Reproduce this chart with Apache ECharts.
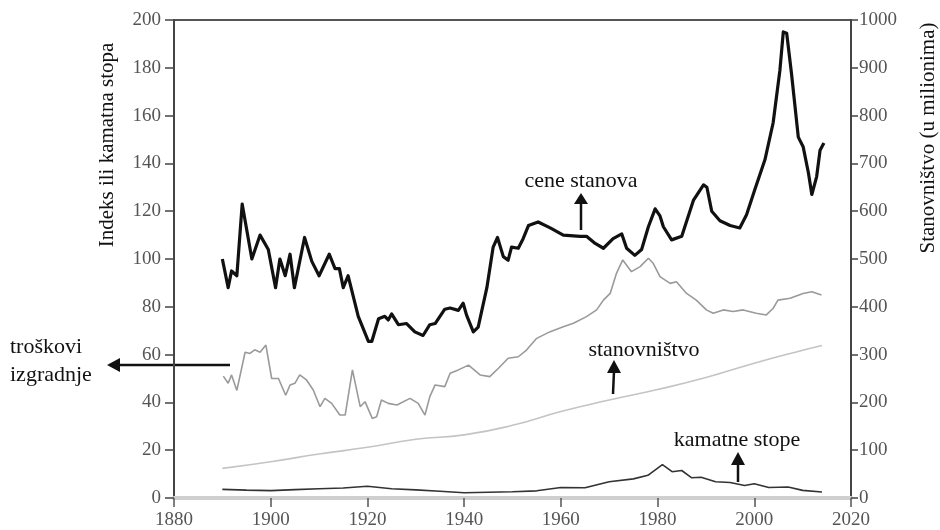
<!DOCTYPE html>
<html>
<head>
<meta charset="utf-8">
<script src="https://cdn.jsdelivr.net/npm/echarts@6/dist/echarts.min.js"></script>
<style>
  html, body { margin: 0; padding: 0; background: #fff; }
  #chart { width: 940px; height: 530px; }
</style>
</head>
<body>
<div id="chart"></div>
<script>
// [godina, vrednost] — očitano sa slike
const homePrices = [
  [1890, 100], [1891.2, 88], [1891.9, 95], [1893, 93], [1894.1, 123], [1896.1, 100],
  [1897.8, 110], [1899.5, 104], [1901, 88], [1901.9, 100], [1903, 93], [1904, 102],
  [1904.9, 88], [1907, 109], [1908.5, 99], [1910, 93], [1912.1, 102], [1913.3, 96],
  [1914.2, 96], [1915, 88], [1916, 93], [1918.1, 76], [1920.2, 65.5], [1920.9, 65.5],
  [1922.3, 75], [1923.6, 76], [1924.3, 74.5], [1925, 77], [1926.4, 72.5], [1928.1, 73],
  [1929.8, 69.5], [1931.5, 68], [1932.9, 72.5], [1934, 73], [1936, 79], [1937.1, 79.5],
  [1938.8, 78.5], [1939.8, 81.5], [1940.5, 76.5], [1941.9, 69.5], [1942.9, 71.5],
  [1944.7, 88], [1946, 105], [1946.9, 109], [1948.1, 101], [1949.1, 99.5], [1949.8, 105],
  [1951.2, 104.5], [1952.2, 108.5], [1953.3, 114], [1955.3, 115.5], [1957.8, 113],
  [1960.5, 110], [1964, 109.5], [1965.3, 109.5], [1967.1, 106.5], [1968.8, 104.5],
  [1970.8, 108.5], [1972.6, 110.5], [1973.6, 104.5], [1975.3, 101.5], [1976.7, 104],
  [1978.1, 113.5], [1979.5, 121], [1980.5, 118], [1981.2, 113.5], [1982.9, 108],
  [1985, 109.5], [1987.4, 124.5], [1989.5, 131], [1990.2, 130], [1991.2, 120],
  [1992.9, 116], [1995, 114], [1997, 113], [1998.4, 118.5], [2000.1, 129], [2002.2, 141.5],
  [2003.9, 157], [2005.3, 179], [2006, 195], [2006.7, 194.5], [2007.7, 177.5],
  [2009.1, 151], [2010.1, 147], [2011.2, 136], [2011.9, 127], [2012.9, 134.5],
  [2013.6, 145.5], [2014.4, 148.5]
]

const buildingCosts = [
  [1890.2, 51], [1891.2, 48], [1891.9, 51.5], [1893, 45], [1894.7, 61], [1895.7, 60.5],
  [1896.7, 62], [1897.8, 61], [1899, 64], [1900.2, 50], [1901.6, 50], [1903.1, 43],
  [1904, 47.3], [1905, 48], [1906, 51.5], [1907.4, 49.4], [1908.8, 45.2], [1910.2, 38.2],
  [1911.2, 41.7], [1912.6, 39.6], [1914.3, 34.7], [1915.4, 34.7], [1916.9, 53.6],
  [1918.5, 38.2], [1919.5, 40.3], [1921, 33.3], [1921.9, 34], [1922.9, 41], [1924.3, 39.6],
  [1926.1, 38.9], [1928.8, 41.7], [1930.5, 39.6], [1931.9, 34.7], [1932.9, 42.4],
  [1934, 47.3], [1936, 46.6], [1937.1, 52.2], [1938.8, 53.6], [1940.9, 55.6],
  [1943.3, 51.5], [1945.3, 50.8], [1947.1, 54.3], [1949.1, 58.5], [1951.2, 59.1],
  [1952.9, 61.9], [1955, 66.8], [1957.8, 69.6], [1960.5, 71.7], [1962.6, 73.1],
  [1965.3, 75.9], [1967.4, 78.7], [1968.8, 82.8], [1970.2, 85.6], [1971.5, 94],
  [1972.8, 99.6], [1974.6, 94.7], [1976.4, 96.8], [1978.1, 100.3], [1979.1, 98.2],
  [1980.5, 92.6], [1982.6, 89.8], [1983.9, 90.5], [1986, 85.6], [1988, 82.8],
  [1990.1, 78.7], [1991.5, 77.3], [1993.6, 78.7], [1995.6, 78], [1997.7, 78.7],
  [2000.4, 77.3], [2002.5, 76.6], [2003.9, 79.4], [2004.9, 82.8], [2007.4, 83.6],
  [2010.1, 85.6], [2011.9, 86.3], [2013.9, 84.9]
]

// stanovništvo u milionima (desna osa)
const population = [
  [1890, 62], [1900, 76], [1910, 92], [1920, 106], [1930, 123], [1940, 132],
  [1950, 152], [1960, 181], [1970, 205], [1980, 227], [1990, 252], [2000, 282],
  [2010, 309], [2014, 319]
]

const interestRates = [
  [1890, 3.6], [1895, 3.3], [1900, 3.1], [1905, 3.5], [1910, 3.9], [1915, 4.2],
  [1920, 4.9], [1925, 3.9], [1930, 3.4], [1935, 2.8], [1940, 2.2], [1945, 2.4],
  [1950, 2.6], [1955, 3], [1960, 4.4], [1965, 4.3], [1970, 6.8], [1975, 8],
  [1978, 9.5], [1981, 14], [1983, 11], [1985, 11.5], [1987, 8.5], [1989, 8.7],
  [1992, 6.8], [1995, 6.5], [1998, 5.2], [2000, 6], [2003, 4.4], [2007, 4.6],
  [2010, 3.2], [2014, 2.5]
]

const serif = 'Liberation Serif, Times New Roman, serif'
const tickFont = { fontFamily: serif, fontSize: 19, color: '#555', formatter: v => String(v) }

const chart = echarts.init(document.getElementById('chart'))

const lineBase = {
  type: 'line',
  showSymbol: false,
  animation: false
}

const option = {
  backgroundColor: '#fff',
  grid: {
    left: 174,
    right: 89,
    top: 20,
    bottom: 32,
    show: true,
    borderColor: '#555',
    borderWidth: 2
  },
  xAxis: {
    type: 'value',
    min: 1880,
    max: 2020,
    interval: 20,
    axisLine: { show: true, lineStyle: { color: '#cfcfcf', width: 4 } },
    axisTick: { show: true, length: 9, lineStyle: { color: '#555', width: 1.5 } },
    axisLabel: Object.assign({ margin: 13 }, tickFont),
    splitLine: { show: false }
  },
  yAxis: [
    {
      type: 'value',
      min: 0,
      max: 200,
      interval: 20,
      axisLine: { show: true, lineStyle: { color: '#444', width: 2 } },
      axisTick: { show: true, length: 9, lineStyle: { color: '#444', width: 1.5 } },
      axisLabel: Object.assign({ margin: 13 }, tickFont),
      splitLine: { show: false }
    },
    {
      type: 'value',
      min: 0,
      max: 1000,
      interval: 100,
      position: 'right',
      axisLine: { show: true, lineStyle: { color: '#444', width: 2 } },
      axisTick: { show: true, length: 7, lineStyle: { color: '#444', width: 1.5 } },
      axisLabel: Object.assign({ margin: 8 }, tickFont),
      splitLine: { show: false }
    }
  ],
  series: [
    Object.assign({}, lineBase, {
      name: 'troškovi izgradnje',
      data: buildingCosts,
      lineStyle: { color: '#9a9a9a', width: 1.6 }
    }),
    Object.assign({}, lineBase, {
      name: 'stanovništvo',
      yAxisIndex: 1,
      data: population,
      smooth: true,
      lineStyle: { color: '#c4c4c4', width: 1.6 }
    }),
    Object.assign({}, lineBase, {
      name: 'kamatne stope',
      data: interestRates,
      lineStyle: { color: '#333', width: 1.6 }
    }),
    Object.assign({}, lineBase, {
      name: 'cene stanova',
      data: homePrices,
      lineStyle: { color: '#111', width: 3.2, join: 'round' }
    })
  ],
  graphic: [
    // naslovi osa
    {
      type: 'text', x: 107, y: 145, rotation: Math.PI / 2,
      style: { text: 'Indeks ili kamatna stopa', font: '21px ' + serif, fill: '#111', textAlign: 'center', textVerticalAlign: 'middle' }
    },
    {
      type: 'text', x: 928, y: 138, rotation: Math.PI / 2,
      style: { text: 'Stanovništvo (u milionima)', font: '21px ' + serif, fill: '#111', textAlign: 'center', textVerticalAlign: 'middle' }
    },
    // cene stanova
    {
      type: 'text', x: 581, y: 181,
      style: { text: 'cene stanova', font: '22px ' + serif, fill: '#111', textAlign: 'center', textVerticalAlign: 'middle' }
    },
    { type: 'line', shape: { x1: 581, y1: 230, x2: 581, y2: 202 }, style: { stroke: '#111', lineWidth: 2.5 } },
    { type: 'polygon', shape: { points: [[574, 204], [588, 204], [581, 193]] }, style: { fill: '#111' } },
    // stanovništvo
    {
      type: 'text', x: 644, y: 350,
      style: { text: 'stanovništvo', font: '22px ' + serif, fill: '#111', textAlign: 'center', textVerticalAlign: 'middle' }
    },
    { type: 'line', shape: { x1: 613, y1: 394, x2: 614, y2: 371 }, style: { stroke: '#111', lineWidth: 2.5 } },
    { type: 'polygon', shape: { points: [[607, 373], [621, 373], [614, 360]] }, style: { fill: '#111' } },
    // kamatne stope
    {
      type: 'text', x: 737, y: 440,
      style: { text: 'kamatne stope', font: '22px ' + serif, fill: '#111', textAlign: 'center', textVerticalAlign: 'middle' }
    },
    { type: 'line', shape: { x1: 738, y1: 482, x2: 738, y2: 463 }, style: { stroke: '#111', lineWidth: 2.5 } },
    { type: 'polygon', shape: { points: [[731, 465], [745, 465], [738, 452]] }, style: { fill: '#111' } },
    // troškovi izgradnje
    {
      type: 'text', x: 10, y: 347,
      style: { text: 'troškovi', font: '22px ' + serif, fill: '#111', textAlign: 'left', textVerticalAlign: 'middle' }
    },
    {
      type: 'text', x: 10, y: 375,
      style: { text: 'izgradnje', font: '22px ' + serif, fill: '#111', textAlign: 'left', textVerticalAlign: 'middle' }
    },
    { type: 'line', shape: { x1: 230, y1: 365, x2: 118, y2: 365 }, style: { stroke: '#111', lineWidth: 2.5 } },
    { type: 'polygon', shape: { points: [[120, 358], [120, 372], [107, 365]] }, style: { fill: '#111' } }
  ]
}

chart.setOption(option)

window.addEventListener('resize', () => {
  chart.resize()
})
</script>
</body>
</html>
